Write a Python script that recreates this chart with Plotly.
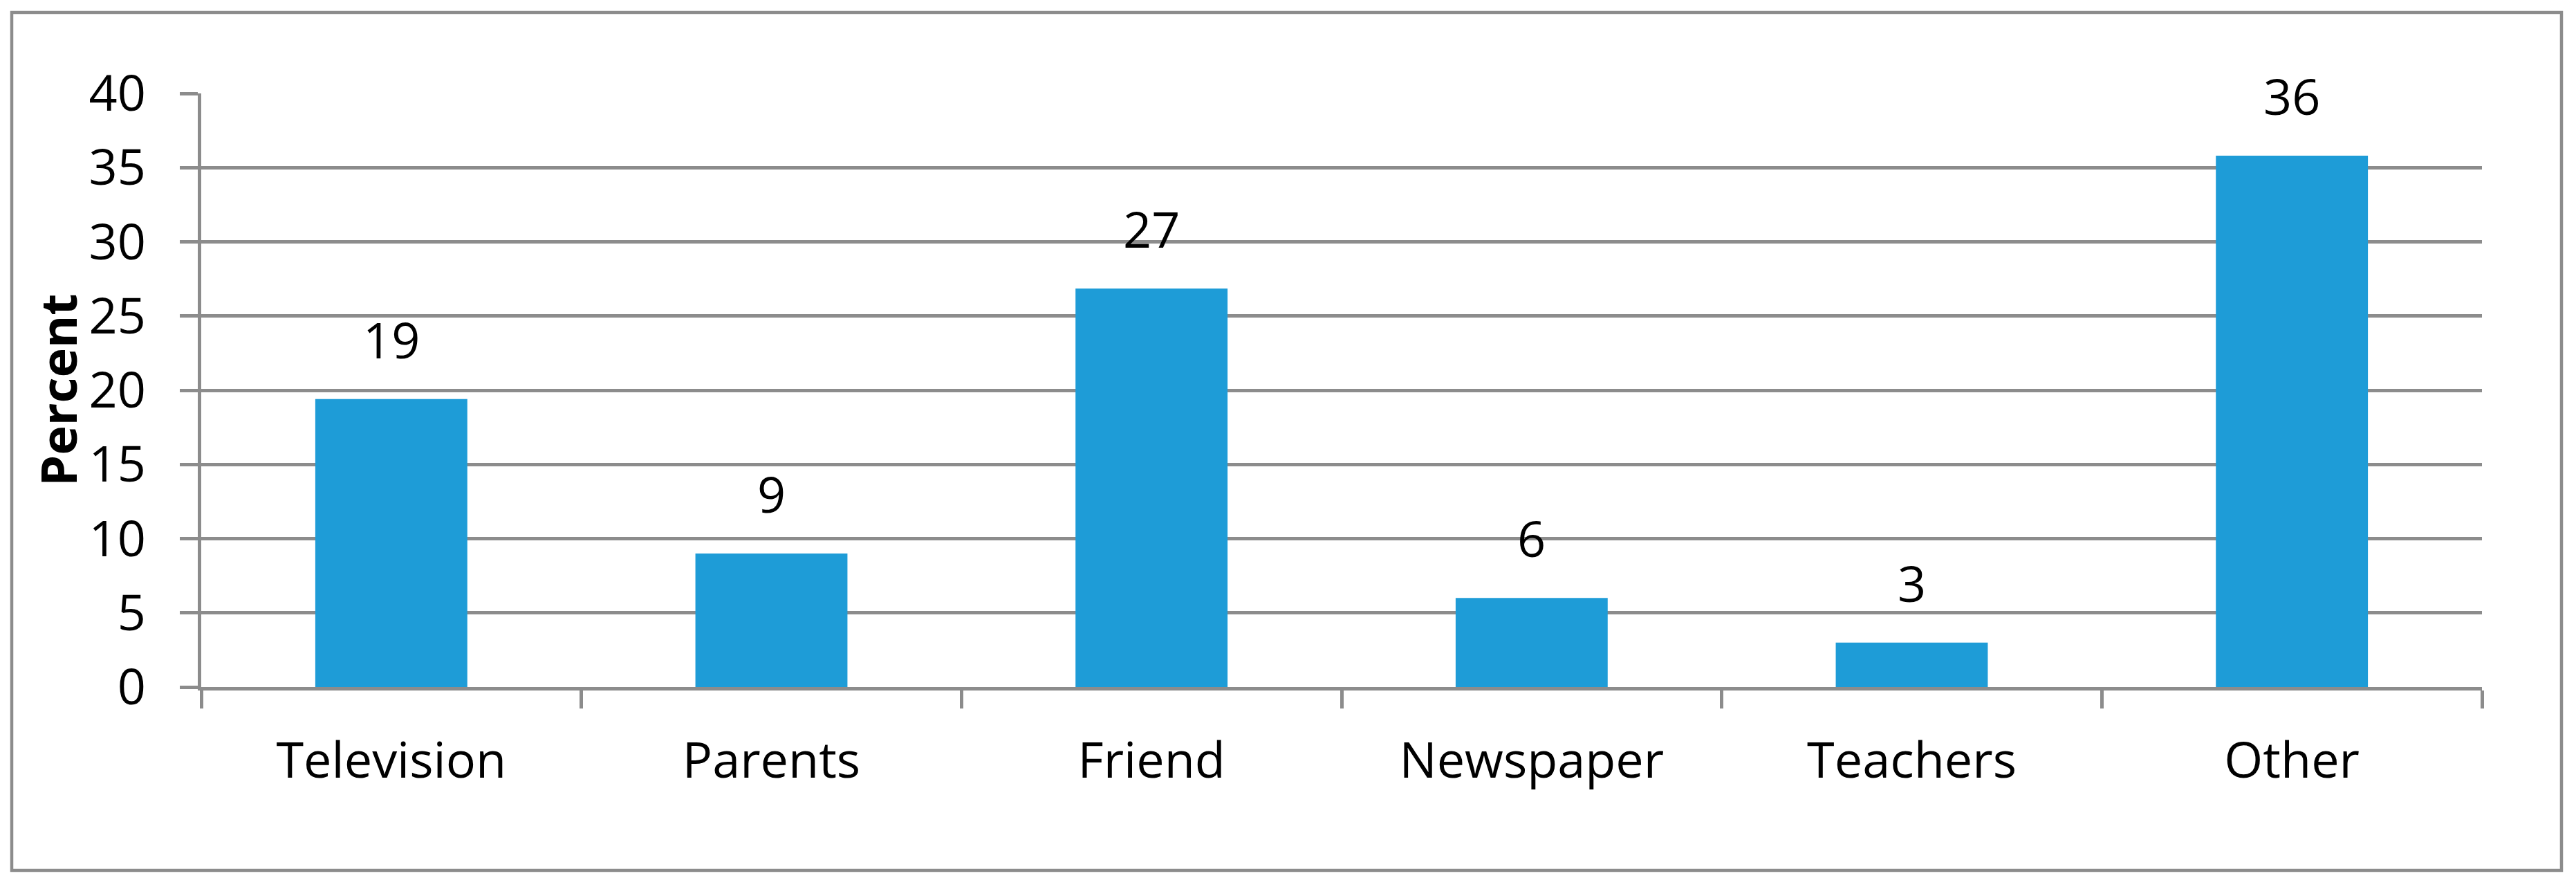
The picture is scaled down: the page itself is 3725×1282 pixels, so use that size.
"""
Bar chart of where respondents got their information, in percent.
"""

import plotly.graph_objects as go

categories = ["Television", "Parents", "Friend", "Newspaper", "Teachers", "Other"]
percent_values = [19.4, 9.0, 26.85, 6.0, 3.0, 35.8]
y_tick_values = [0, 5, 10, 15, 20, 25, 30, 35, 40]

WIDTH, HEIGHT = 3725, 1282
PLOT_LEFT, PLOT_RIGHT, PLOT_TOP, PLOT_BOTTOM = 291, 3589, 135, 993
GREY = "#8c8c8c"
BAR_BLUE = "#1e9cd7"
FONT = "Open Sans"


def px_to_paper_x(px: float) -> float:
    return (px - PLOT_LEFT) / (PLOT_RIGHT - PLOT_LEFT)


def px_to_paper_y(py: float) -> float:
    return (PLOT_BOTTOM - py) / (PLOT_BOTTOM - PLOT_TOP)


fig = go.Figure()
fig.add_trace(go.Bar(x=categories, y=percent_values,
                     marker=dict(color=BAR_BLUE, line=dict(width=0)),
                     width=0.4, hoverinfo="x+y"))

# data labels (rounded) sitting above each bar
for cat, val in zip(categories, percent_values):
    fig.add_annotation(x=cat, y=val, text=f"{val:.0f}", showarrow=False,
                       yanchor="bottom", yshift=36,
                       font=dict(family=FONT, size=72, color="black"))

# y axis title
fig.add_annotation(xref="paper", yref="paper", x=px_to_paper_x(83), y=0.5,
                   text="<b>Percent</b>", textangle=-90, showarrow=False,
                   xanchor="center", yanchor="middle",
                   font=dict(family=FONT, size=72, color="black"))

# outer chart border
fig.add_shape(type="rect", xref="paper", yref="paper",
              x0=px_to_paper_x(17), x1=px_to_paper_x(3704),
              y0=px_to_paper_y(1258), y1=px_to_paper_y(18),
              line=dict(color=GREY, width=4.5), layer="below")

fig.update_layout(
    width=WIDTH, height=HEIGHT,
    margin=dict(l=PLOT_LEFT, r=WIDTH - PLOT_RIGHT, t=PLOT_TOP, b=HEIGHT - PLOT_BOTTOM),
    plot_bgcolor="white", paper_bgcolor="white",
    showlegend=False,
    font=dict(family=FONT, size=72, color="black"),
    bargap=0.6,
)
fig.update_xaxes(
    type="category", tickson="boundaries", ticks="outside", ticklen=26,
    tickwidth=4.5, tickcolor=GREY, showline=True, linecolor=GREY, linewidth=4.5,
    showgrid=False, tickfont=dict(family=FONT, size=72, color="black"),
    ticklabelstandoff=40,
)
fig.update_yaxes(
    range=[0, 40], tickvals=y_tick_values, ticks="outside", ticklen=26,
    tickwidth=4.5, tickcolor=GREY, showline=True, linecolor=GREY, linewidth=4.5,
    showgrid=True, gridcolor=GREY, gridwidth=4.5, zeroline=False,
    tickfont=dict(family=FONT, size=72, color="black"),
    ticklabelstandoff=35,
)

# drop the default body margin so the figure sits at the page origin
fig.write_html("out.html", config={"displayModeBar": False},
               post_script="document.body.style.margin = '0';")
